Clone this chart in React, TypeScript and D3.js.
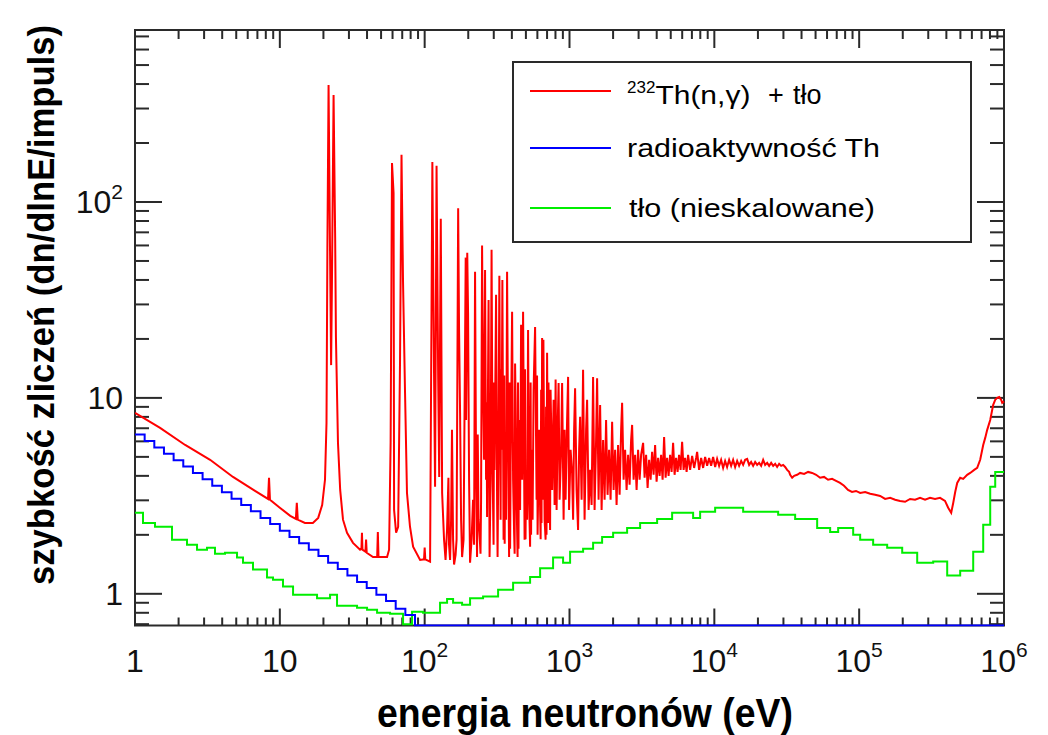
import React from "react";
import * as d3 from "d3";

// Capture yield of 232Th(n,γ) plus background, as [neutron energy (eV), counts per dlnE per pulse]
const thoriumCapture: [number, number][] = [
  [1, 8.38], [1.49, 7.03], [2.22, 5.75], [3.3, 4.83], [4.75, 3.95], [6.74, 3.35], [8.29, 3.05], [8.42, 3.91], [8.55, 3.02],
  [10.0, 2.75], [11.8, 2.5], [12.9, 2.41], [13.1, 2.91], [13.3, 2.39], [14.9, 2.3], [16.9, 2.3], [18.4, 2.44], [19.6, 2.84],
  [20.5, 3.82], [21.0, 7.45], [21.3, 59], [21.7, 395], [22.2, 59], [22.6, 14.7], [22.9, 39], [23.5, 352], [24.1, 66],
  [24.4, 20.4], [25.2, 5.9], [26.1, 3.39], [27.3, 2.39], [29.1, 2.05], [32.0, 1.82], [35.8, 1.68], [36.6, 1.7], [36.9, 2.05],
  [37.2, 1.68], [39.0, 1.64], [39.4, 1.89], [39.8, 1.62], [44.0, 1.54], [47.0, 1.54], [47.5, 2.07], [48.0, 1.54], [55.0, 1.54],
  [56.8, 1.68], [58.2, 5.9], [59.5, 158], [61.0, 111], [61.5, 2.68], [63.5, 2.05], [65.6, 2.2], [67.6, 15.6], [69.2, 174],
  [70.9, 39], [73.2, 10.6], [75.5, 3.27], [79.2, 2.2], [83.2, 1.74], [93, 1.49], [99, 1.5], [100, 1.72], [101, 1.5],
  [109, 1.46], [113, 160], [116, 13.9], [118, 3.52], [120.8, 153], [124, 12.4], [126, 3.95], [129.2, 82], [132, 3.27],
  [136.1, 1.89], [139.4, 1.49], [142.7, 2.12], [145.9, 3.91], [147.3, 1.78], [149.8, 1.49], [152.2, 2.39], [154.4, 6.87],
  [157.1, 1.89], [159.6, 1.41], [163.5, 1.58], [166.1, 1.89], [170.3, 93], [172.8, 22.2], [175.6, 8.38], [178.4, 2.39],
  [181.3, 1.54], [185.6, 1.89], [192, 52], [193.1, 7.72], [196.8, 55], [199.4, 27.2], [202.6, 3.82], [205.8, 1.44],
  [210.8, 1.89], [215.8, 3.02], [219.3, 1.78], [222.8, 44], [226.4, 4.29], [230, 1.54], [232.5, 6.5], [235.5, 2.39],
  [241.3, 1.78], [243, 1.6], [245.2, 3.02], [249.1, 60], [253.1, 11.4], [257.1, 4.83], [261.2, 45], [265.4, 3.82],
  [267.5, 9.5], [269.7, 2.47], [276.2, 31.6], [280.6, 1.54], [285.2, 3.82], [289.7, 57], [294.4, 4.29], [299.1, 1.78],
  [301.5, 12], [303.8, 4.29], [311.2, 33.6], [316.2, 3.02], [318.7, 1.54], [323.8, 6.87], [327.9, 42], [334.4, 2.39],
  [337, 14], [339.7, 5.43], [344, 40], [350.6, 1.89], [354.5, 13], [356.8, 1.8], [359.1, 5.43], [364.8, 2.39],
  [370.7, 44], [376.6, 6.87], [382.7, 1.54], [386, 12], [389, 1.7], [392, 4.29], [401.5, 27.5], [407.9, 3.82],
  [414.5, 2.05], [418, 1.6], [421, 15], [424.4, 9.77], [431.2, 3.02], [438.1, 1.54], [441, 12], [444.5, 1.7],
  [448.6, 7.72], [455.9, 2.68], [463.2, 23.6], [470.6, 3.82], [478.1, 27.5], [489.6, 1.89], [493, 14], [497, 1.9],
  [501.4, 4.29], [509.5, 2.39], [517.6, 22.2], [525.9, 3.02], [534.5, 1.74], [539, 12], [543, 2.0], [547.4, 5.43],
  [556.1, 2.39], [565, 11.0], [578.7, 23], [592.6, 3.02], [597, 13], [602.1, 2.0], [616.5, 6.87], [626.7, 2.68],
  [632, 1.9], [637, 11], [641, 2.3], [646.9, 20.2], [654.2, 3.02], [660.4, 19.8], [673.1, 2.39], [683.9, 1.89],
  [689, 9], [694, 2.0], [700.3, 17], [711.6, 2.3], [716, 12], [722.9, 5.43], [734.7, 2.12], [740, 11], [746.4, 7.72],
  [758.4, 3.39], [776.7, 9.77], [789.1, 2.84], [801.8, 12.4], [814.6, 2.68], [827.6, 6.87], [840.9, 11.9], [854.3, 3.02],
  [875.1, 5.43], [889.1, 11.9], [910.5, 2.39], [925, 6.87], [939.9, 3.02], [962.5, 7.72], [977.9, 12.8], [993.5, 2.68],
  [1017.6, 5.43], [1042, 4.14], [1059, 2.39], [1076, 6.87], [1093, 11.2], [1119, 3.39], [1146, 2.12], [1165, 5.43],
  [1184, 8.0], [1212, 3.02], [1241, 13.9], [1271, 2.39], [1302, 6.87], [1323, 9.77], [1355, 2.68], [1388, 4.29],
  [1421, 2.84], [1455, 12.8], [1490, 2.68], [1526, 6.1], [1551, 12.6], [1588, 3.02], [1627, 9.21], [1666, 2.68],
  [1706, 6.1], [1747, 3.02], [1789, 7.72], [1832, 3.2], [1876, 5.43], [1922, 3.02], [1969, 7.55], [2016, 3.39],
  [2065, 5.43], [2114, 2.84], [2165, 5.75], [2218, 3.2], [2272, 6.87], [2308, 9.43], [2364, 3.82], [2421, 5.43],
  [2479, 3.39], [2539, 5.12], [2600, 3.6], [2663, 6.1], [2706, 7.28], [2771, 3.82], [2838, 5.12], [2906, 3.39],
  [2976, 5.43], [3048, 3.82], [3122, 5.12], [3223, 5.9], [3300, 3.91], [3380, 5.12], [3462, 3.47], [3545, 4.83],
  [3631, 3.82], [3718, 5.3], [3808, 4.05], [3900, 5.75], [3994, 3.73], [4090, 4.94], [4188, 4.0], [4291, 5.12],
  [4394, 3.82], [4500, 6.32], [4609, 3.91], [4719, 4.94], [4833, 4.0], [4950, 5.12], [5069, 4.19], [5192, 5.9],
  [5316, 4.05], [5445, 4.94], [5576, 4.19], [5710, 5.12], [5850, 4.29], [5992, 5.97], [6135, 4.29], [6283, 4.94],
  [6435, 4.19], [6590, 5.12], [6806, 4.29], [7026, 5.06], [7253, 4.39], [7486, 4.94], [7606, 5.3], [7851, 4.29],
  [8107, 4.94], [8368, 4.39], [8638, 5.0], [8917, 4.5], [9204, 4.94], [9505, 4.5], [9812, 5.0], [10130, 4.44],
  [10450, 4.88], [10790, 4.5], [11140, 4.83], [11500, 4.39], [11870, 4.77], [12250, 4.44], [12650, 4.83], [13060, 4.5],
  [13480, 4.83], [13920, 4.44], [14370, 4.77], [14830, 4.5], [15320, 4.77], [15810, 4.55], [16320, 4.83], [16850, 4.88],
  [17390, 4.55], [17950, 4.71], [18530, 4.5], [19130, 4.71], [19750, 4.55], [20380, 4.66], [21050, 4.5], [21730, 4.83],
  [22430, 4.55], [23160, 4.66], [23900, 4.5], [24680, 4.66], [25480, 4.5], [26300, 4.61], [27140, 4.44], [28020, 4.61],
  [28930, 4.5], [29860, 4.55], [30820, 4.44], [31820, 4.29], [32840, 4.19], [33380, 4.05], [34460, 3.91], [35570, 4.0],
  [37300, 4.05], [39120, 4.14], [41680, 4.09], [44420, 4.19], [47330, 4.14], [50440, 4.05], [53730, 3.91], [57250, 3.95],
  [61000, 3.82], [65000, 3.86], [69250, 3.77], [73790, 3.68], [78620, 3.56], [83770, 3.39], [89250, 3.31], [95100, 3.35],
  [101600, 3.27], [110000, 3.31], [119100, 3.24], [128900, 3.2], [139600, 3.16], [151100, 3.05], [163600, 3.09],
  [177100, 3.02], [191700, 2.98], [207500, 2.95], [224700, 3.05], [243200, 3.02], [263300, 3.09], [285000, 3.02],
  [308600, 3.09], [334100, 3.05], [361700, 3.09], [391500, 2.98], [411700, 2.75], [431900, 2.59], [446000, 2.91],
  [460300, 3.31], [475200, 3.68], [498300, 3.91], [522600, 3.86], [557000, 4.05], [584300, 4.14], [622700, 4.29],
  [653000, 4.39], [684800, 4.83], [718500, 5.75], [741700, 6.25], [765600, 6.87], [803200, 7.72], [842200, 9.21],
  [869600, 9.77], [897500, 10.0], [926800, 10.1], [956600, 9.77], [971900, 9.43], [1000000, 9.6],
];

// Thorium sample activity: histogram with 15 bins per decade, last bin runs to the end of the range
const activityBinsPerDecade = 15;
const activityValues = [
  6.5, 6.03, 5.59, 5.19, 4.81, 4.46, 4.14, 3.84, 3.56, 3.3, 3.06, 2.84, 2.64, 2.44, 2.27,
  2.1, 1.95, 1.81, 1.68, 1.56, 1.44, 1.34, 1.24, 1.15, 1.07, 0.99, 0.92, 0.84, 0.78, 0.5,
];

// Unscaled background histogram: bin edges (eV) and contents
const backgroundEdges = [
  1, 1.136, 1.375, 1.801, 2.286, 2.681, 3.142, 3.568, 4.183, 5.064, 5.57, 6.53, 8.159, 8.974, 10.52, 12.34, 13.79,
  18.07, 22.22, 24.83, 34.13, 40.01, 46.92, 57.68, 70.94, 81.84, 97.5, 127.7, 142.8, 157.1, 181.3, 205.8, 253.1, 321.4,
  407.9, 534.5, 626.7, 770.3, 903.0, 1009.5, 1241.4, 1455.3, 1679.4, 2000.5, 2499.1, 3073, 4027, 5112, 7139, 7979,
  10128, 15810, 27580, 36140, 51280, 63060, 71610, 90920, 101600, 124900, 156100, 198200, 251600, 324400, 405300,
  498300, 612900, 718500, 803200, 869600, 1000000,
];
const backgroundValues = [
  2.59, 2.3, 2.2, 1.89, 1.78, 1.68, 1.72, 1.6, 1.62, 1.53, 1.44, 1.33, 1.21, 1.18, 1.09, 0.99, 0.99, 0.95, 0.99, 0.87,
  0.85, 0.83, 0.8, 0.79, 0.7, 0.81, 0.8, 0.9, 0.94, 0.9, 0.88, 0.95, 0.97, 1.05, 1.14, 1.22, 1.35, 1.53, 1.44, 1.64,
  1.7, 1.82, 1.95, 2.05, 2.17, 2.3, 2.41, 2.59, 2.44, 2.62, 2.75, 2.62, 2.53, 2.41, 2.17, 2.07, 2.17, 2.0, 1.89, 1.78,
  1.72, 1.62, 1.44, 1.46, 1.24, 1.31, 1.64, 2.25, 3.52, 4.19,
];

const xDomain: [number, number] = [1, 1e6];
const yDomain: [number, number] = [0.689, 755];
const xMajorExponents = [0, 1, 2, 3, 4, 5, 6];
const yMajor = [1, 10, 100];
const yMinor = [0.7, 0.8, 0.9, 2, 3, 4, 5, 6, 7, 8, 9, 20, 30, 40, 50, 60, 70, 80, 90, 200, 300, 400, 500, 600, 700];

const legendEntries = [
  { key: "capture", color: "#ff0000" },
  { key: "activity", color: "#0000ff" },
  { key: "background", color: "#00ee00" },
];

const W = 1048;
const H = 735;
const L = 135;
const R = 1004;
const T = 30;
const B = 625.5;
const AXIS = "#2a2a2a";
const FONT = "'Liberation Sans', Arial, Helvetica, sans-serif";

export default function App() {
  const x = d3.scaleLog().domain(xDomain).range([L, R]);
  const y = d3.scaleLog().domain(yDomain).range([B, T]).clamp(true);

  const line = d3
    .line<[number, number]>()
    .x((d) => x(d[0]))
    .y((d) => y(d[1]));
  const stepLine = d3
    .line<[number, number]>()
    .x((d) => x(d[0]))
    .y((d) => y(d[1]))
    .curve(d3.curveStepAfter);

  const activityPts: [number, number][] = activityValues.map((v, i) => [
    Math.pow(10, i / activityBinsPerDecade),
    v,
  ]);
  activityPts.push([xDomain[1], activityValues[activityValues.length - 1]]);

  const backgroundPts: [number, number][] = backgroundValues.map((v, i) => [backgroundEdges[i], v]);
  backgroundPts.push([backgroundEdges[backgroundEdges.length - 1], backgroundValues[backgroundValues.length - 1]]);

  const xMinor: number[] = [];
  for (let e = 0; e < 6; e++) for (let k = 2; k <= 9; k++) xMinor.push(k * Math.pow(10, e));

  const exponentOf = (v: number) => Math.round(Math.log10(v));

  return (
    <svg
      width={W}
      height={H}
      style={{ position: "absolute", left: 0, top: 0, background: "#fff" }}
      fontFamily={FONT}
    >
      <defs>
        <clipPath id="plotArea">
          <rect x={L} y={T - 2} width={R - L + 1} height={B - T + 3} />
        </clipPath>
      </defs>
      <rect x={0} y={0} width={W} height={H} fill="#fff" />

      {/* frame */}
      <rect x={L} y={T} width={R - L} height={B - T} fill="none" stroke={AXIS} strokeWidth={2} />

      {/* y ticks on both sides */}
      {yMajor.map((v) => (
        <g key={"ym" + v}>
          <line x1={L} x2={L + 27} y1={y(v)} y2={y(v)} stroke={AXIS} strokeWidth={2} />
          <line x1={R} x2={R - 27} y1={y(v)} y2={y(v)} stroke={AXIS} strokeWidth={2} />
        </g>
      ))}
      {yMinor.map((v) => (
        <g key={"yn" + v}>
          <line x1={L} x2={L + 14} y1={y(v)} y2={y(v)} stroke={AXIS} strokeWidth={2} />
          <line x1={R} x2={R - 14} y1={y(v)} y2={y(v)} stroke={AXIS} strokeWidth={2} />
        </g>
      ))}

      {/* x ticks on both sides */}
      {xMajorExponents.map((e) => {
        const px = x(Math.pow(10, e));
        return (
          <g key={"xm" + e}>
            <line x1={px} x2={px} y1={B} y2={B - 17} stroke={AXIS} strokeWidth={2} />
            <line x1={px} x2={px} y1={T} y2={T + 18} stroke={AXIS} strokeWidth={2} />
          </g>
        );
      })}
      {xMinor.map((v) => (
        <g key={"xn" + v}>
          <line x1={x(v)} x2={x(v)} y1={B} y2={B - 8} stroke={AXIS} strokeWidth={2} />
          <line x1={x(v)} x2={x(v)} y1={T} y2={T + 9} stroke={AXIS} strokeWidth={2} />
        </g>
      ))}

      {/* data */}
      <g clipPath="url(#plotArea)" fill="none" strokeLinejoin="miter">
        <path d={stepLine(backgroundPts) || ""} stroke="#00ee00" strokeWidth={2} />
        <path d={stepLine(activityPts) || ""} stroke="#0000ff" strokeWidth={2} />
        <path d={line(thoriumCapture) || ""} stroke="#ff0000" strokeWidth={2} />
      </g>

      {/* y tick labels */}
      {yMajor.map((v) => {
        const e = exponentOf(v);
        return (
          <text key={"yl" + v} x={123} y={y(v) + 11} textAnchor="end" fontSize={32} fill="#111">
            {e === 0 ? "1" : e === 1 ? "10" : (
              <>
                10<tspan fontSize={21} dy={-14}>{e}</tspan>
              </>
            )}
          </text>
        );
      })}

      {/* x tick labels */}
      {xMajorExponents.map((e) => {
        const px = x(Math.pow(10, e));
        return (
          <text key={"xl" + e} x={px} y={672} textAnchor="middle" fontSize={32} fill="#111">
            {e === 0 ? "1" : e === 1 ? "10" : (
              <>
                10<tspan fontSize={21} dy={-15}>{e}</tspan>
              </>
            )}
          </text>
        );
      })}

      {/* axis titles */}
      <text
        x={585}
        y={727}
        textAnchor="middle"
        fontSize={40}
        fontWeight="bold"
        fill="#000"
        textLength={416}
        lengthAdjust="spacingAndGlyphs"
      >
        energia neutronów (eV)
      </text>
      <text
        transform="translate(54,305) rotate(-90)"
        textAnchor="middle"
        fontSize={36}
        fontWeight="bold"
        fill="#000"
        textLength={560}
        lengthAdjust="spacingAndGlyphs"
      >
        szybkość zliczeń (dn/dlnE/impuls)
      </text>

      {/* legend */}
      <rect x={513} y={62} width={458} height={180} fill="#fff" stroke={AXIS} strokeWidth={2} />
      {legendEntries.map((d, i) => {
        const ly = [91, 148, 208][i];
        return <line key={d.key} x1={530} x2={611} y1={ly} y2={ly} stroke={d.color} strokeWidth={2} />;
      })}
      <text x={627} y={104} fontSize={26} fill="#000">
        <tspan fontSize={17} dy={-11}>232</tspan>
        <tspan dy={11} textLength={95} lengthAdjust="spacingAndGlyphs">Th(n,γ)</tspan>
      </text>
      <text x={768} y={104} fontSize={27} fill="#000">+</text>
      <text x={793} y={104} fontSize={27} fill="#000">tło</text>
      <text x={627} y={157} fontSize={26} fill="#000" textLength={253} lengthAdjust="spacingAndGlyphs">
        radioaktywność Th
      </text>
      <text x={629} y={217} fontSize={26} fill="#000" textLength={246} lengthAdjust="spacingAndGlyphs">
        tło (nieskalowane)
      </text>
    </svg>
  );
}
